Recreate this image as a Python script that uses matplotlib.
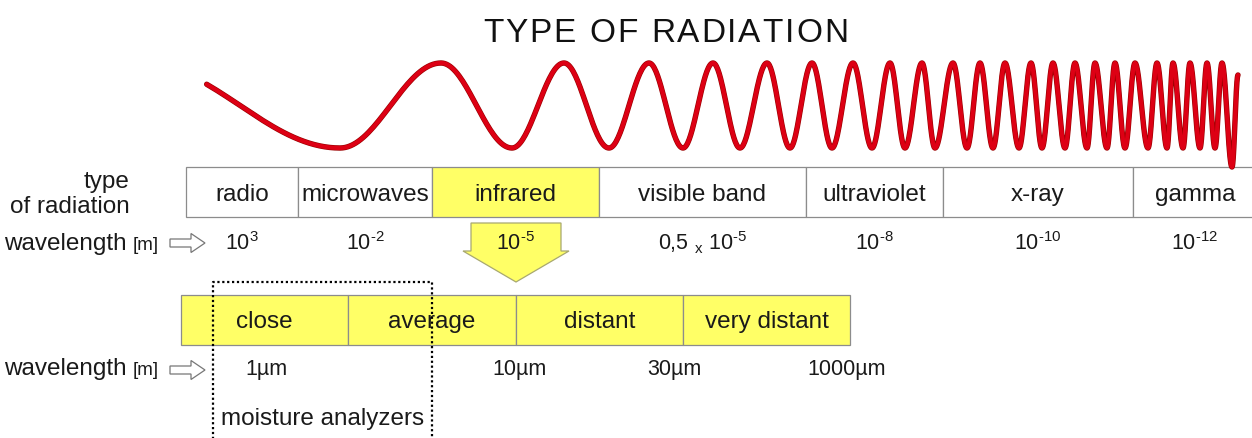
import numpy as np
import matplotlib
matplotlib.use('Agg')
import matplotlib.pyplot as plt
from matplotlib import patches, patheffects

plt.rcParams['font.family'] = ['Liberation Sans', 'DejaVu Sans']
plt.rcParams['mathtext.fontset'] = 'custom'
plt.rcParams['mathtext.rm'] = 'Liberation Sans'
plt.rcParams['mathtext.it'] = 'Liberation Sans:italic'

# === data ===
TITLE = 'TYPE OF RADIATION'

bands = ['radio', 'microwaves', 'infrared', 'visible band', 'ultraviolet', 'x-ray', 'gamma']
band_coef = ['', '', '', '0,5', '', '', '']
band_exp = ['3', '-2', '-5', '-5', '-8', '-10', '-12']
highlight = 'infrared'

ir_bands = ['close', 'average', 'distant', 'very distant']
ir_wavelengths = ['1µm', '10µm', '30µm', '1000µm']
analyzer_label = 'moisture analyzers'

# wave turning points (px)
wave_x = [140, 340, 441, 512, 564, 609, 649, 683, 713, 740, 767, 790, 812, 832,
          853, 872, 890, 905, 922, 935, 953, 967, 980, 993, 1005, 1019, 1031, 1042,
          1053, 1065, 1075, 1087, 1095, 1107, 1115, 1125, 1135, 1148, 1157, 1167,
          1173, 1183, 1190, 1200, 1207, 1215, 1222, 1232, 1238]
wave_y = [63, 148, 63, 148, 63, 148, 63, 148, 63, 148, 63, 148, 63, 148,
          63, 148, 63, 148, 63, 148, 63, 148, 63, 148, 63, 148, 63, 148,
          63, 148, 63, 148, 63, 148, 63, 148, 63, 148, 63, 148, 63, 148,
          63, 148, 63, 148, 63, 167, 75]

# === layout (pixels) ===
W, H = 1252, 438
band_edges = [186, 298, 432, 599, 806, 943, 1133, 1257]
top_y0, top_y1 = 167, 217
ir_edges = [181, 348, 516, 683, 850]
ir_y0, ir_y1 = 295, 345
ir_wl_x = [266, 519, 674, 847]
wave_start = 202

YELLOW = '#ffff66'
EDGE = '#8c8c8c'
INK = '#1a1a1a'
FS = 17.5

fig = plt.figure(figsize=(W / 100, H / 100), dpi=100)
ax = fig.add_axes([0, 0, 1, 1])
ax.set_xlim(0, W)
ax.set_ylim(H, 0)
ax.axis('off')

# title with letter spacing
renderer = fig.canvas.get_renderer()
title_kw = dict(fontsize=24, color='#111111', va='baseline', ha='left')
chars, widths = [], []
for ch in TITLE:
    t = ax.text(0, 42, ch, **title_kw)
    chars.append(t)
    widths.append(9.5 if ch == ' ' else t.get_window_extent(renderer).width)
gap = (365 - sum(widths)) / (len(TITLE) - 1)
x = 483
for t, w in zip(chars, widths):
    t.set_x(x)
    x += w + gap

# wave
xs, ys = [], []
for i in range(len(wave_x) - 1):
    t = np.linspace(0, 1, 40)
    x0, x1, y0, y1 = wave_x[i], wave_x[i + 1], wave_y[i], wave_y[i + 1]
    xs.append(x0 + (x1 - x0) * t)
    ys.append(y0 + (y1 - y0) * (1 - np.cos(np.pi * t)) / 2)
xs = np.concatenate(xs)
ys = np.concatenate(ys)
keep = xs >= wave_start
ax.plot(xs[keep], ys[keep], color='#dd0014', lw=3.0, solid_capstyle='round',
        path_effects=[patheffects.Stroke(linewidth=3.9, foreground='#9a0000'),
                      patheffects.Normal()], zorder=3)

# top row of bands
for i, name in enumerate(bands):
    x0, x1 = band_edges[i], band_edges[i + 1]
    fc = YELLOW if name == highlight else 'white'
    ax.add_patch(patches.Rectangle((x0, top_y0), x1 - x0, top_y1 - top_y0,
                                   fc=fc, ec=EDGE, lw=0.9, zorder=1))
    xc = (x0 + x1) / 2
    ax.text(xc, 201, name, fontsize=FS, ha='center', va='baseline', color=INK, zorder=2)
    coef = band_coef[i] + ' $\\mathregular{_{x}}$ ' if band_coef[i] else ''
    label = coef + '$\\mathregular{10^{\\text{' + band_exp[i] + '}}}$'
    ax.text(xc, 250, label, fontsize=15.5, ha='center', va='baseline', color=INK, zorder=5)

ax.text(130, 188, 'type', fontsize=FS, ha='right', va='baseline', color=INK)
ax.text(130, 213, 'of radiation', fontsize=FS, ha='right', va='baseline', color=INK)

# wavelength row labels + hollow arrows
for yb, ya in [(250, 243), (375, 370)]:
    ax.text(4, yb, 'wavelength', fontsize=FS, ha='left', va='baseline', color=INK)
    ax.text(133, yb, '[m]', fontsize=13.5, ha='left', va='baseline', color=INK)
    ax.add_patch(patches.FancyArrow(170, ya, 35, 0, width=8, head_width=19, head_length=14,
                                    length_includes_head=True, fc='white', ec='#777777', lw=0.9))

# big yellow arrow from infrared
ax.add_patch(patches.FancyArrow(516, 223, 0, 59, width=90, head_width=106, head_length=31,
                                length_includes_head=True, fc=YELLOW, ec='#a8a870', lw=0.9, zorder=4))

# infrared sub-bands
for i, name in enumerate(ir_bands):
    x0, x1 = ir_edges[i], ir_edges[i + 1]
    ax.add_patch(patches.Rectangle((x0, ir_y0), x1 - x0, ir_y1 - ir_y0,
                                   fc=YELLOW, ec=EDGE, lw=0.9, zorder=1))
    ax.text((x0 + x1) / 2, 328, name, fontsize=FS, ha='center', va='baseline', color=INK, zorder=2)

for xw, lab in zip(ir_wl_x, ir_wavelengths):
    ax.text(xw, 375, lab, fontsize=15.5, ha='center', va='baseline', color=INK)

# dotted moisture analyzer frame (open at the bottom)
ax.plot([213, 213, 432, 432], [H + 5, 282, 282, H + 5], color='black', lw=1.6,
        ls=(0, (1, 1.2)), zorder=6)
ax.text(221, 425, analyzer_label, fontsize=FS, ha='left', va='baseline', color=INK)

fig.savefig('out.png', dpi=100)
